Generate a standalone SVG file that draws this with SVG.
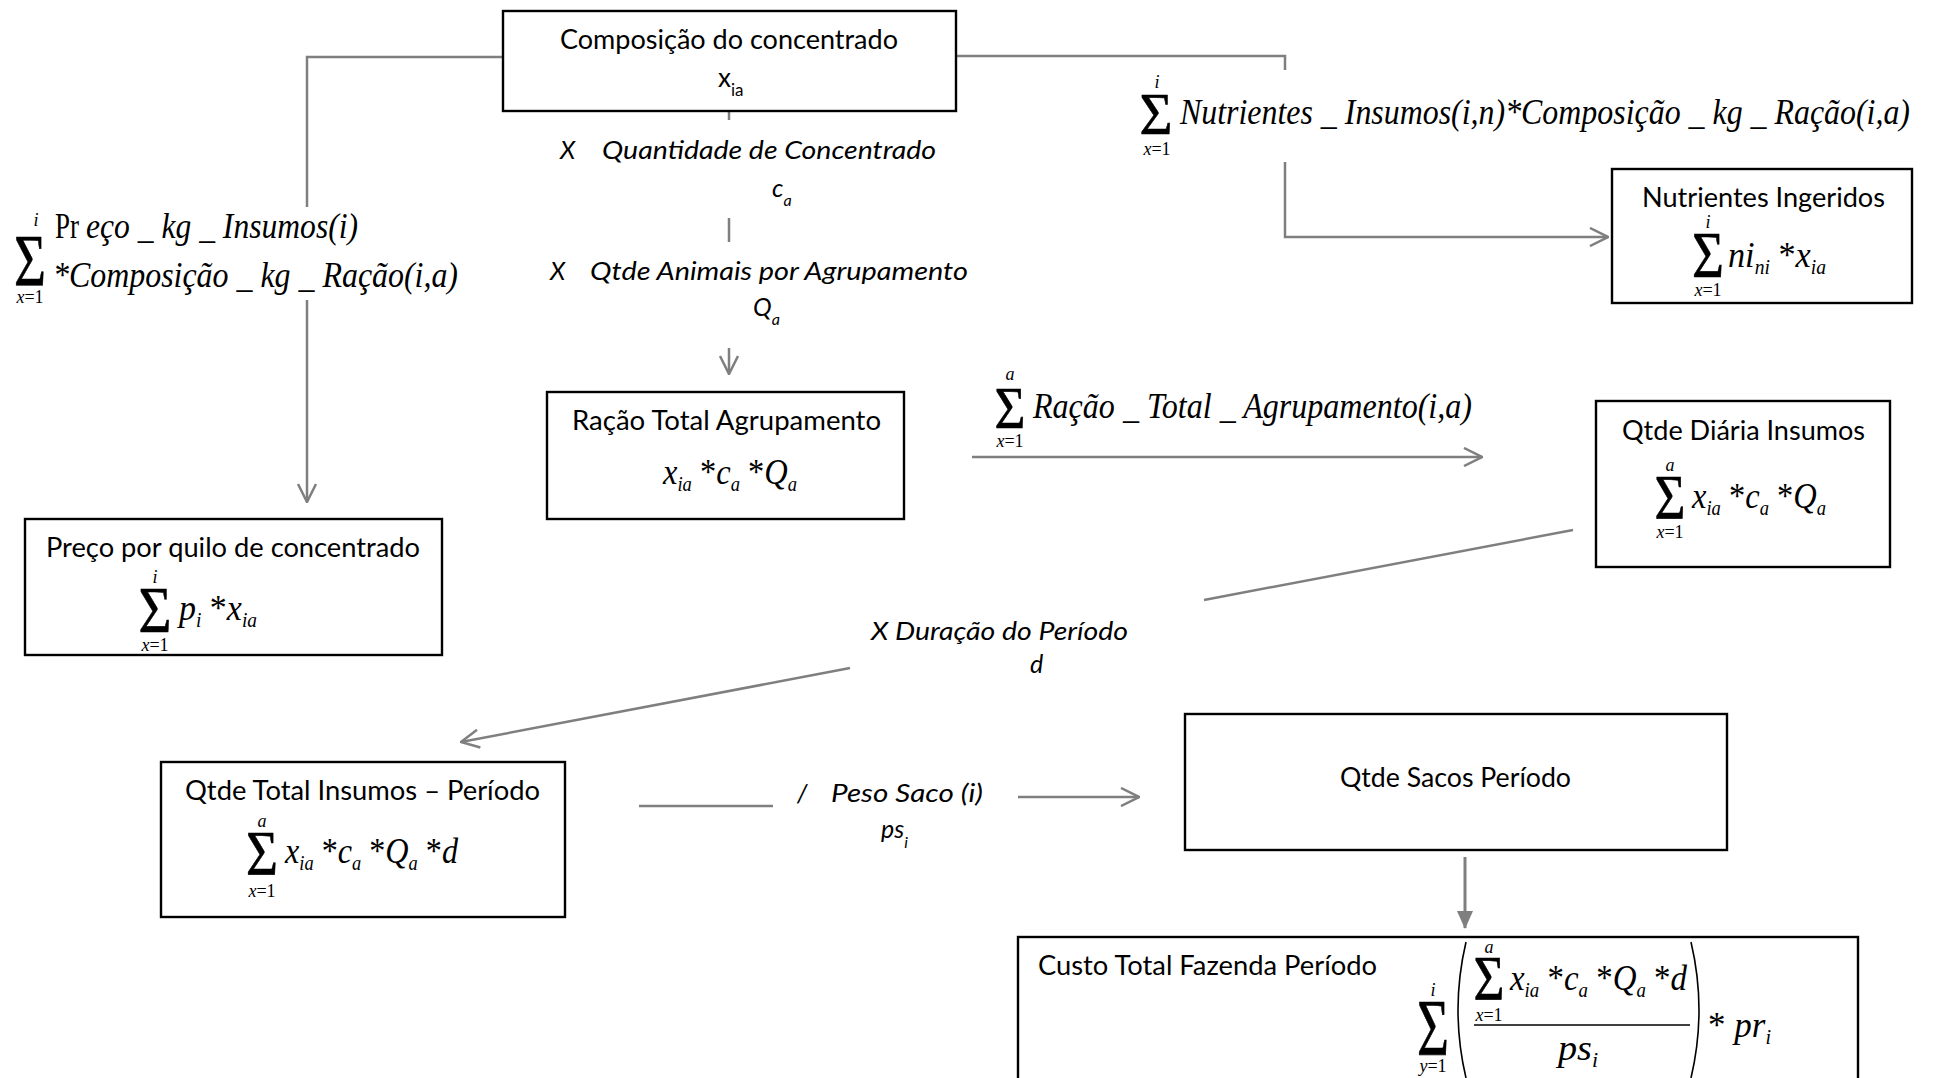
<svg xmlns="http://www.w3.org/2000/svg" width="1937" height="1078" viewBox="0 0 1937 1078">
<style>
.box{fill:#fff;stroke:#000;stroke-width:2.4}
.t{font-family:Lato,"Open Sans",sans-serif;font-size:26px;fill:#000}
.ti{font-family:Lato,"Open Sans",sans-serif;font-size:25px;font-style:italic;fill:#000}
.m{font-family:"Liberation Serif","Times New Roman",serif;font-style:italic;font-size:35px;fill:#000}
.u{font-style:normal}
.sg{font-family:"Liberation Serif","Times New Roman",serif;font-style:normal;fill:#000;text-anchor:middle;stroke:#000;stroke-width:0.6}
.lim{font-family:"Liberation Serif","Times New Roman",serif;font-style:italic;font-size:18px;text-anchor:middle;fill:#000}
.c{fill:none;stroke:#7f7f7f;stroke-width:2.5}
.ca{fill:none;stroke:#7f7f7f;stroke-width:2.5;marker-end:url(#open)}
</style>
<defs>
<marker id="open" markerUnits="userSpaceOnUse" viewBox="0 0 20 20" markerWidth="20" markerHeight="20" refX="19" refY="10" orient="auto">
<path d="M1,1 L19,10 L1,19" fill="none" stroke="#7f7f7f" stroke-width="2.5"/>
</marker>
<marker id="solid" markerUnits="userSpaceOnUse" viewBox="0 0 18 16" markerWidth="18" markerHeight="16" refX="17" refY="8" orient="auto">
<path d="M0,0 L18,8 L0,16 Z" fill="#7f7f7f"/>
</marker>
</defs>
<rect width="1937" height="1078" fill="#fff"/>

<g id="connectors">
<polyline class="c" points="503,57 307,57 307,207"/>
<line class="ca" x1="307" y1="300" x2="307" y2="502"/>
<line class="c" x1="729" y1="102" x2="729" y2="120"/>
<line class="c" x1="729" y1="218" x2="729" y2="242"/>
<line class="ca" x1="729" y1="348" x2="729" y2="374"/>
<polyline class="c" points="956,56 1285,56 1285,70"/>
<polyline class="ca" points="1285,162 1285,237 1608,237"/>
<line class="ca" x1="972" y1="457" x2="1482" y2="457"/>
<line class="c" x1="1573" y1="530" x2="1204" y2="600"/>
<line class="ca" x1="850" y1="668" x2="461" y2="742"/>
<line class="c" x1="639" y1="806" x2="773" y2="806"/>
<line class="ca" x1="1018" y1="797" x2="1139" y2="797"/>
<line fill="none" stroke="#7f7f7f" stroke-width="3" marker-end="url(#solid)" x1="1465" y1="857" x2="1465" y2="928"/>
</g>

<g id="label-preco-kg">
<text class="sg" x="30" y="286" font-size="74" textLength="32" lengthAdjust="spacingAndGlyphs">Σ</text>
<text class="lim" x="36" y="226">i</text>
<text class="lim" x="30" y="303">x<tspan class="u">=1</tspan></text>
<text class="m u" x="55" y="238" textLength="24" lengthAdjust="spacingAndGlyphs">Pr</text>
<text class="m" x="86" y="238" textLength="272" lengthAdjust="spacingAndGlyphs">eço _ kg _ Insumos(i)</text>
<text class="m" x="53" y="287" textLength="405" lengthAdjust="spacingAndGlyphs">*Composição _ kg _ Ração(i,a)</text>
</g>

<g id="label-qtd-conc">
<text class="ti" x="560" y="159">X</text>
<text class="ti" x="602" y="159" textLength="334" lengthAdjust="spacingAndGlyphs">Quantidade de Concentrado</text>
<text class="ti" x="772" y="197">c<tspan font-size="16" dy="9">a</tspan></text>
</g>

<g id="label-qtd-animais">
<text class="ti" x="550" y="280">X</text>
<text class="ti" x="590" y="280" textLength="378" lengthAdjust="spacingAndGlyphs">Qtde Animais por Agrupamento</text>
<text class="ti" x="753" y="316">Q<tspan font-size="16" dy="9">a</tspan></text>
</g>

<g id="label-nutrientes">
<text class="sg" x="1156" y="134" font-size="60" textLength="33" lengthAdjust="spacingAndGlyphs">Σ</text>
<text class="lim" x="1157" y="88">i</text>
<text class="lim" x="1157" y="155">x<tspan class="u">=1</tspan></text>
<text class="m" x="1180" y="124" font-size="31" textLength="730" lengthAdjust="spacingAndGlyphs">Nutrientes _ Insumos(i,n)*Composição _ kg _ Ração(i,a)</text>
</g>

<g id="label-racao-total">
<text class="sg" x="1010" y="428" font-size="60" textLength="31" lengthAdjust="spacingAndGlyphs">Σ</text>
<text class="lim" x="1010" y="380">a</text>
<text class="lim" x="1010" y="447">x<tspan class="u">=1</tspan></text>
<text class="m" x="1033" y="418" textLength="439" lengthAdjust="spacingAndGlyphs">Ração _ Total _ Agrupamento(i,a)</text>
</g>

<g id="label-duracao">
<text class="ti" x="871" y="640" textLength="257" lengthAdjust="spacingAndGlyphs">X Duração do Período</text>
<text class="ti" x="1030" y="673">d</text>
</g>

<g id="label-peso-saco">
<text class="ti" x="797" y="802">/</text>
<text class="ti" x="831" y="802" textLength="152" lengthAdjust="spacingAndGlyphs">Peso Saco (i)</text>
<text class="ti" x="881" y="838">ps<tspan font-size="16" dy="10">i</tspan></text>
</g>

<g id="node-composicao">
<rect class="box" x="503" y="11" width="453" height="100"/>
<text class="t" x="560" y="49" textLength="338" lengthAdjust="spacingAndGlyphs">Composição do concentrado</text>
<text class="t" x="718" y="87">x<tspan font-size="17" dy="9">ia</tspan></text>
</g>

<g id="node-nutrientes-ingeridos">
<rect class="box" x="1612" y="169" width="300" height="134"/>
<text class="t" x="1642" y="207" textLength="243" lengthAdjust="spacingAndGlyphs">Nutrientes Ingeridos</text>
<text class="sg" x="1708" y="277" font-size="66" textLength="32" lengthAdjust="spacingAndGlyphs">Σ</text>
<text class="lim" x="1708" y="228">i</text>
<text class="lim" x="1708" y="296">x<tspan class="u">=1</tspan></text>
<text class="m" x="1728" y="267" textLength="98" lengthAdjust="spacingAndGlyphs">ni<tspan font-size="20" dy="7">ni</tspan><tspan class="u" dy="-7"> *</tspan>x<tspan font-size="20" dy="7">ia</tspan></text>
</g>

<g id="node-preco-quilo">
<rect class="box" x="25" y="519" width="417" height="136"/>
<text class="t" x="46" y="557" textLength="374" lengthAdjust="spacingAndGlyphs">Preço por quilo de concentrado</text>
<text class="sg" x="155" y="632" font-size="66" textLength="33" lengthAdjust="spacingAndGlyphs">Σ</text>
<text class="lim" x="155" y="583">i</text>
<text class="lim" x="155" y="651">x<tspan class="u">=1</tspan></text>
<text class="m" x="179" y="620" textLength="78" lengthAdjust="spacingAndGlyphs">p<tspan font-size="20" dy="7">i</tspan><tspan class="u" dy="-7"> *</tspan>x<tspan font-size="20" dy="7">ia</tspan></text>
</g>

<g id="node-racao-total">
<rect class="box" x="547" y="392" width="357" height="127"/>
<text class="t" x="572" y="430" textLength="309" lengthAdjust="spacingAndGlyphs">Ração Total Agrupamento</text>
<text class="m" x="663" y="484" textLength="134" lengthAdjust="spacingAndGlyphs">x<tspan font-size="20" dy="7">ia</tspan><tspan class="u" dy="-7"> *</tspan>c<tspan font-size="20" dy="7">a</tspan><tspan class="u" dy="-7"> *</tspan>Q<tspan font-size="20" dy="7">a</tspan></text>
</g>

<g id="node-qtde-diaria">
<rect class="box" x="1596" y="401" width="294" height="166"/>
<text class="t" x="1622" y="440" textLength="243" lengthAdjust="spacingAndGlyphs">Qtde Diária Insumos</text>
<text class="sg" x="1670" y="519" font-size="64" textLength="31" lengthAdjust="spacingAndGlyphs">Σ</text>
<text class="lim" x="1670" y="471">a</text>
<text class="lim" x="1670" y="538">x<tspan class="u">=1</tspan></text>
<text class="m" x="1692" y="508" textLength="134" lengthAdjust="spacingAndGlyphs">x<tspan font-size="20" dy="7">ia</tspan><tspan class="u" dy="-7"> *</tspan>c<tspan font-size="20" dy="7">a</tspan><tspan class="u" dy="-7"> *</tspan>Q<tspan font-size="20" dy="7">a</tspan></text>
</g>

<g id="node-qtde-total">
<rect class="box" x="161" y="762" width="404" height="155"/>
<text class="t" x="185" y="800" textLength="355" lengthAdjust="spacingAndGlyphs">Qtde Total Insumos – Período</text>
<text class="sg" x="262" y="875" font-size="64" textLength="32" lengthAdjust="spacingAndGlyphs">Σ</text>
<text class="lim" x="262" y="827">a</text>
<text class="lim" x="262" y="897">x<tspan class="u">=1</tspan></text>
<text class="m" x="285" y="863" textLength="173" lengthAdjust="spacingAndGlyphs">x<tspan font-size="20" dy="7">ia</tspan><tspan class="u" dy="-7"> *</tspan>c<tspan font-size="20" dy="7">a</tspan><tspan class="u" dy="-7"> *</tspan>Q<tspan font-size="20" dy="7">a</tspan><tspan class="u" dy="-7"> *</tspan>d</text>
</g>

<g id="node-qtde-sacos">
<rect class="box" x="1185" y="714" width="542" height="136"/>
<text class="t" x="1340" y="787" textLength="231" lengthAdjust="spacingAndGlyphs">Qtde Sacos Período</text>
</g>

<g id="node-custo-total">
<rect class="box" x="1018" y="937" width="840" height="170"/>
<text class="t" x="1038" y="975" textLength="339" lengthAdjust="spacingAndGlyphs">Custo Total Fazenda Período</text>
<text class="sg" x="1433" y="1055" font-size="80" textLength="32" lengthAdjust="spacingAndGlyphs">Σ</text>
<text class="lim" x="1433" y="996">i</text>
<text class="lim" x="1433" y="1072">y<tspan class="u">=1</tspan></text>
<path d="M1466,942 Q1450,1010 1466,1078" fill="none" stroke="#000" stroke-width="1.6"/>
<text class="sg" x="1489" y="1000" font-size="64" textLength="31" lengthAdjust="spacingAndGlyphs">Σ</text>
<text class="lim" x="1489" y="953">a</text>
<text class="lim" x="1489" y="1021">x<tspan class="u">=1</tspan></text>
<text class="m" x="1510" y="990" textLength="177" lengthAdjust="spacingAndGlyphs">x<tspan font-size="20" dy="7">ia</tspan><tspan class="u" dy="-7"> *</tspan>c<tspan font-size="20" dy="7">a</tspan><tspan class="u" dy="-7"> *</tspan>Q<tspan font-size="20" dy="7">a</tspan><tspan class="u" dy="-7"> *</tspan>d</text>
<line x1="1474" y1="1025" x2="1690" y2="1025" stroke="#000" stroke-width="1.6"/>
<text class="m" x="1558" y="1060" textLength="40" lengthAdjust="spacingAndGlyphs">ps<tspan font-size="20" dy="7">i</tspan></text>
<path d="M1691,942 Q1707,1010 1691,1078" fill="none" stroke="#000" stroke-width="1.6"/>
<text class="m" x="1708" y="1037"><tspan class="u">* </tspan>pr<tspan font-size="20" dy="7">i</tspan></text>
</g>
</svg>
